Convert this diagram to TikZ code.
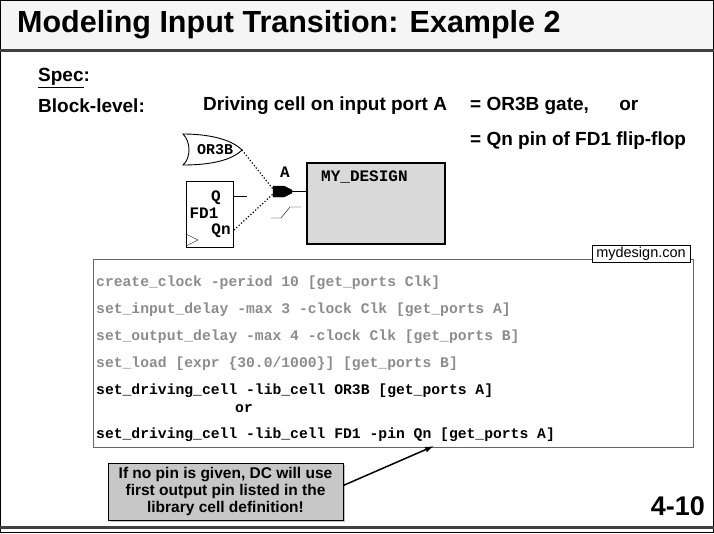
\documentclass[tikz,border=0pt]{standalone}
\usepackage{fontspec}
\setmainfont{Liberation Sans}
\newfontfamily\cour{Liberation Mono}
\usetikzlibrary{arrows.meta,shadows}
\begin{document}
\begin{tikzpicture}[x=1pt,y=-1pt,
  lbl/.style={font=\bfseries\fontsize{19}{22}\selectfont,anchor=west,inner sep=0},
  code/.style={font=\cour\bfseries\fontsize{14.7}{16}\selectfont,anchor=west,inner sep=0},
  gcode/.style={code,text=black!45},
  sm/.style={font=\cour\bfseries\fontsize{16}{16}\selectfont,inner sep=0}]
\useasboundingbox (0,0) rectangle (714,533);
\fill[black!4] (0,0) rectangle (714,50);
\draw[line width=0.8pt] (0.5,0.5) rectangle (713.5,532.5);
\draw[line width=3pt,black!75] (0,50) -- (714,50);
\draw[line width=3pt,black!75] (0,527) -- (714,527);
\node[anchor=west,inner sep=0,font=\bfseries\fontsize{30.5}{32}\selectfont] (title) at (17,25) {Modeling Input Transition: Example 2};
\node[lbl] (spec) at (38,78) {\underline{Spec}:};
\node[lbl] (bl) at (38,106) {Block-level:};
\node[lbl] (dc) at (203,106) {Driving cell on input port A};
\node[lbl] (eq1) at (470,106) {= OR3B gate,\hspace{1.6em}or};
\node[lbl] (eq2) at (470,141) {= Qn pin of FD1 flip-flop};
% OR gate
\draw[line width=0.9pt] (183,134) .. controls (191,142) and (191,158) .. (183,165)
  .. controls (205,165) and (230,162) .. (242,150)
  .. controls (230,138) and (205,134) .. (183,134) -- cycle;
\node[sm,font=\cour\bfseries\fontsize{15}{15}\selectfont] (or) at (215,150) {OR3B};
\coordinate (orout) at (242,150);
% FD1
\draw[line width=0.8pt] (186,181) rectangle (233,247);
\node[sm] (q) at (216,198) {Q};
\node[sm] (fd) at (204,213) {FD1};
\node[sm] (qn) at (221,231) {Qn};
\draw (186,234) -- (198,240) -- (186,246);
\draw (233,196) -- (247,196);
\coordinate (qnout) at (234,230);
% driver
\draw[fill=black] (273,186) -- (284,186) -- (292,190) -- (292,193) -- (284,197) -- (273,197) -- cycle;
\coordinate (dl) at (273,189);
\coordinate (dl2) at (273,194);
\draw[line width=1pt] (292,191.5) -- (307,191.5);
\draw[line width=1.2pt,dotted] (orout) -- (dl);
\draw[line width=1.2pt,dotted] (qnout) -- (dl2);
\node[sm] (a) at (285,172) {A};
\draw (271,218) -- (281,218) -- (290,207) -- (301,207);
% design
\draw[line width=2.2pt,fill=black!15] (307,163) rectangle (445,244);
\node[sm,anchor=west] (md) at (321,177) {MY\_DESIGN};
% code box
\draw[black!60,line width=0.8pt] (93,259) rectangle (693,447);
\draw[fill=white,line width=0.6pt] (592,245) rectangle (690,262);
\node[inner sep=0,font=\fontsize{14.5}{15}\selectfont] (tab) at (641,253.5) {mydesign.con};
\node[gcode] (c1) at (96,283) {create\_clock -period 10 [get\_ports Clk]};
\node[gcode] (c2) at (96,310) {set\_input\_delay -max 3 -clock Clk [get\_ports A]};
\node[gcode] (c3) at (96,337) {set\_output\_delay -max 4 -clock Clk [get\_ports B]};
\node[gcode] (c4) at (96,364) {set\_load [expr \{30.0/1000\}] [get\_ports B]};
\node[code] (c5) at (96,391) {set\_driving\_cell -lib\_cell OR3B [get\_ports A]};
\node[code] (c6) at (235,409) {or};
\node[code] (c7) at (96,435) {set\_driving\_cell -lib\_cell FD1 -pin Qn [get\_ports A]};
% callout
\node[draw,fill=black!22,drop shadow={shadow xshift=2pt,shadow yshift=-2pt,fill=black!50},
  minimum width=235,minimum height=57,align=center,inner sep=2pt,
  font=\bfseries\fontsize{15.5}{17}\selectfont] (call) at (225.5,491.5)
  {If no pin is given, DC will use\\first output pin listed in the\\library cell definition!};
\coordinate (tip) at (434,446);
\draw[-{Latex[length=9pt,width=6pt]},line width=1.5pt] (call.east) ++(0,-6) -- (tip);
\node[inner sep=0,anchor=east,font=\bfseries\fontsize{27}{28}\selectfont] (pg) at (705,506) {4-10};
\end{tikzpicture}
\end{document}
